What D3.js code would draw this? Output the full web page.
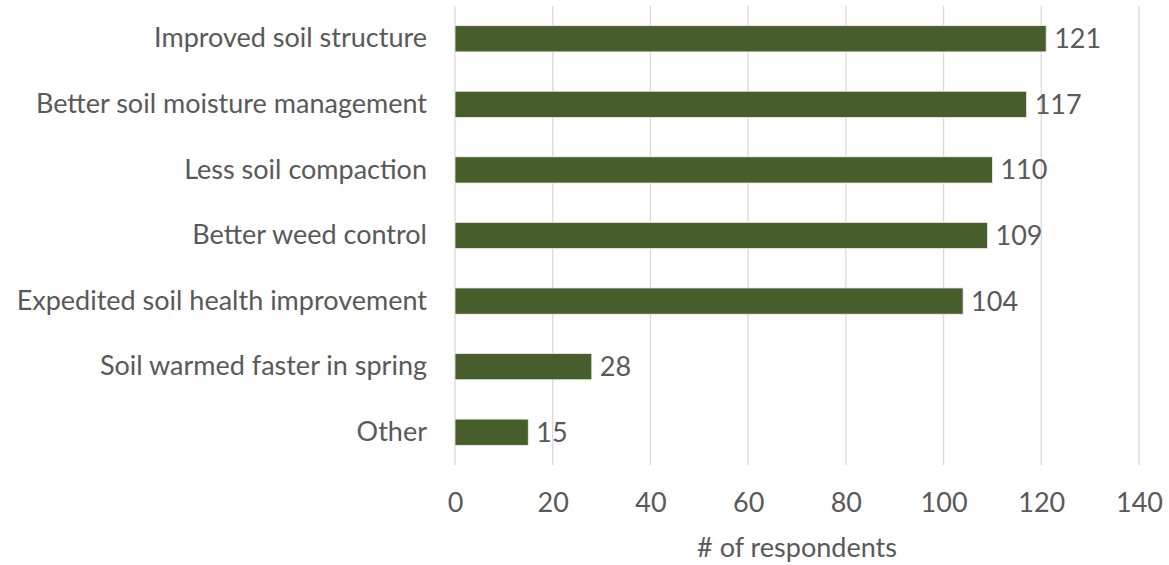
<!DOCTYPE html>
<html>
<head>
<meta charset="utf-8">
<script src="https://cdn.jsdelivr.net/npm/d3@7"></script>
<style>
  body { margin: 0; background: #fff; }
  text { font-family: Lato, "Open Sans", sans-serif; fill: #595959; }
</style>
</head>
<body>
<div id="chart"></div>
<script>
const categories = [
  "Improved soil structure",
  "Better soil moisture management",
  "Less soil compaction",
  "Better weed control",
  "Expedited soil health improvement",
  "Soil warmed faster in spring",
  "Other"
];
const respondents = [121, 117, 110, 109, 104, 28, 15];
const xTicks = [0, 20, 40, 60, 80, 100, 120, 140];
const xTitle = "# of respondents";

const width = 1169, height = 565;
const fontSize = 27;
const margin = { left: 455, right: 30, top: 6, bottom: 100 };
const innerW = 1139 - margin.left;
const innerH = 465 - margin.top;

const svg = d3.select("#chart").append("svg")
  .attr("width", width).attr("height", height);

const g = svg.append("g").attr("transform", `translate(${margin.left},${margin.top})`);

const x = d3.scaleLinear().domain([0, 140]).range([0, innerW]);
const y = d3.scaleBand().domain(categories).range([0, innerH])
  .paddingInner(0.6).paddingOuter(0.3);

// gridlines
g.selectAll(".grid").data(xTicks).join("line").attr("class", "grid")
  .attr("x1", d => x(d)).attr("x2", d => x(d))
  .attr("y1", 0).attr("y2", innerH)
  .attr("stroke", "#d9d9d9").attr("stroke-width", 1.3);

// bars
g.selectAll(".bar").data(respondents).join("rect").attr("class", "bar")
  .attr("x", x(0))
  .attr("y", (d, i) => y(categories[i]))
  .attr("width", d => x(d) - x(0))
  .attr("height", y.bandwidth())
  .attr("fill", "#475d2b")
  .attr("stroke", "#eef1e8").attr("stroke-width", 0.8);

// value labels
g.selectAll(".val").data(respondents).join("text").attr("class", "val")
  .attr("x", d => x(d) + 8)
  .attr("y", (d, i) => y(categories[i]) + y.bandwidth() / 2)
  .attr("dy", "0.35em")
  .attr("font-size", fontSize)
  .text(d => d);

// category labels
const yAxis = g.append("g").call(d3.axisLeft(y).tickSize(0).tickPadding(28));
yAxis.select(".domain").remove();
yAxis.selectAll("text").attr("font-size", fontSize).attr("fill", "#595959")
  .style("font-family", "Lato, 'Open Sans', sans-serif");

// x axis tick labels
const xAxis = g.append("g").attr("transform", `translate(0,${innerH})`)
  .call(d3.axisBottom(x).tickValues(xTicks).tickSize(0).tickPadding(28));
xAxis.select(".domain").remove();
xAxis.selectAll("text").attr("font-size", fontSize).attr("fill", "#595959")
  .style("font-family", "Lato, 'Open Sans', sans-serif");

// axis title
g.append("text")
  .attr("x", innerW / 2).attr("y", 548 - margin.top)
  .attr("dy", "0.35em")
  .attr("text-anchor", "middle")
  .attr("font-size", fontSize)
  .text(xTitle);
</script>
</body>
</html>
